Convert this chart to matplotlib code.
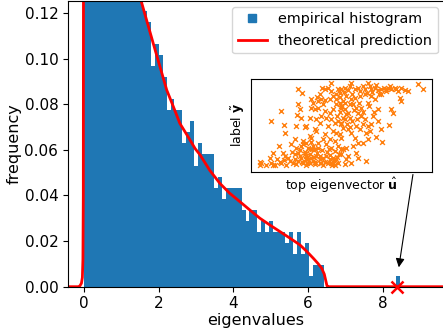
import numpy as np
import matplotlib.pyplot as plt
from matplotlib.lines import Line2D

# histogram of the eigenvalues: 80 bins of equal width, counts per bin
bin_edges = np.linspace(0.0, 8.44, 81)
counts = [60, 45, 40, 37, 35, 33, 32, 31, 30, 30, 29, 28, 28, 27, 27,
          25, 24, 20, 22, 21, 19, 16, 17, 16, 16, 13, 14, 15, 11, 13,
          12, 12, 12, 9, 10, 8, 9, 9, 9, 9, 7, 6, 7, 7, 5,
          6, 5, 6, 5, 5, 5, 4, 5, 3, 5, 3, 4, 1, 2, 2,
          2, 0, 0, 0, 0, 0, 0, 0, 0, 0, 0, 0, 0, 0, 0,
          0, 0, 0, 0, 1]
freq_per_count = 0.00483

# theoretical limiting density
theory_x = [-0.42, -0.14, -0.10, -0.06, -0.035, -0.02, -0.01, 0.0, 0.02, 0.3,
            0.8, 1.2, 1.53, 1.86, 2.04, 2.22, 2.40, 2.57, 2.78, 2.98,
            3.11, 3.37, 3.64, 3.90, 4.18, 4.45, 4.71, 4.98, 5.25, 5.52,
            5.78, 5.96, 6.14, 6.26, 6.36, 6.43, 6.476, 6.50, 6.52, 9.8]
theory_y = [0.0, 0.0, 0.0004, 0.0015, 0.004, 0.012, 0.04, 0.25, 0.6, 0.25,
            0.18, 0.145, 0.1256, 0.1066, 0.0964, 0.0862, 0.0788, 0.0716, 0.066, 0.0605,
            0.0578, 0.0510, 0.0453, 0.0410, 0.0372, 0.0335, 0.0300, 0.0270, 0.0241, 0.0212,
            0.0183, 0.0155, 0.0124, 0.0102, 0.0081, 0.0055, 0.0022, 0.0005, 0.0, 0.0]

top_eig = 8.38

# top eigenvector entries against the labels
u_vals = [83.3, 50, 54, 74, 77.3, 80, 71.7, 69.3, 63.3, 65, 62.7, 50, 51.7, 33.3, 49.3,
          53.3, 61.7, 22.7, 36, 47.7, 56.7, 58.3, 66.7, 68.3, 37.3, 46.7, 61.7, 63.3, 31, 43.3,
          53.3, 55, 58.3, 60, 61.7, 65, 66.7, 70, 25, 21.7, 35, 36.7, 40, 46.7, 50,
          51.7, 53.3, 56.7, 58.3, 60, 63.3, 65, 68.3, 71.7, 75, 78.3, 81.7, 85, 88.3, 13.3,
          11.7, 23.3, 25, 31.7, 33.3, 38.3, 45, 48.3, 50, 55, 58.3, 61.7, 66.7, 71.7, 75,
          80, 83.3, 86.7, 90, 70, 73.3, 76.7, 81.7, 85, 88.3, 91.7, 83.3, 90, 88.3, 91.7,
          93.3, 85, 81.7, 76.7, 73.3, 78.3, 83.3, 86.7, 90, 93.3, 80, 85, 88.3, 91.7, 93.3,
          76.7, 81.7, 86.7, 90, 93.3, 83.3, 78.3, 75, 71.7, 68.3, 66.7, 70, 75,
          103.3, 101.7, 96.7, 93.3, 106.7, 110, 115, 120, 121.7, 123.3, 126.7, 130, 133.3, 138.3, 140,
          143.3, 146.7, 150, 160, 170, 175, 151.7, 152.7, 143.3, 145, 130, 140.7, 127.7, 134.3, 121.7,
          118.3, 120, 116.7, 113.3, 110, 108.3, 105, 103.3, 98.3, 95, 93.3, 96.7, 100, 101.7, 96.7,
          93.3, 95, 100, 103.3, 106.7, 110, 105, 98.3, 95, 108.3, 110, 103.3, 98.3, 118.3, 113.3,
          120, 123.3, 126.7, 116.7, 111.7, 130, 125, 133.3, 138.3, 133.3, 115, 120, 93.3, 100, 96.7,
          42, 44, 47, 52, 54, 57, 59, 62, 64, 67, 69, 72, 74, 77, 79,
          82, 84, 87, 89, 55, 63, 70, 48, 58, 66, 73, 81, 86, 91, 36,
          29, 18, 27, 12,
          88, 92, 96, 100, 104, 107, 112, 117, 119, 124, 128, 131, 136, 142, 148,
          153, 157, 102, 106, 111, 115, 98, 104, 108, 112, 99, 95, 102, 89, 92,
          97, 121, 126, 109, 115, 123]
label_vals = [93.3, 87.3, 82.7, 88.3, 86.7, 87.7, 81.7, 79.3, 76.7, 73.3, 67.7, 71.7, 66.7, 65.3, 60.7,
              58.3, 58.3, 54.7, 50.7, 50, 49, 50, 46.7, 45, 43.3, 36.7, 40, 38.3, 30, 31.7,
              30, 35, 33.3, 28.3, 26.7, 30, 26.7, 28.3, 22.7, 18.3, 23.3, 20, 18.3, 21.7, 23.3,
              20, 18.3, 21.7, 20, 16.7, 18.3, 15, 20, 16.7, 18.3, 20, 16.7, 18.3, 16.7, 12.7,
              14, 12.7, 10.7, 14, 12.7, 10.7, 12.7, 11.7, 15, 12.7, 10.7, 12.7, 11.7, 12.7, 10.7,
              12.7, 13.3, 10.7, 12.7, 75, 76.7, 76, 77.3, 80, 81.7, 83.3, 85, 86.7, 71.7, 73.3,
              68.3, 66.7, 63.3, 65, 60, 58.3, 56.7, 53.3, 55, 51.7, 50, 45, 43.3, 41.7, 38.3,
              41.7, 36.7, 35, 30, 26.7, 28.3, 31.7, 36.7, 53.3, 56.7, 66.7, 68.3, 71.7,
              93.3, 90, 88.3, 86.7, 86.7, 88.3, 90, 92.7, 90, 86.7, 88.3, 86, 87.3, 86.7, 88.3,
              86.7, 88.3, 85, 85, 91.7, 87.3, 78.3, 75, 66.7, 63.3, 55, 50.7, 39.3, 34, 45,
              43.3, 50, 56.7, 60, 63.3, 68.3, 71.7, 76.7, 80, 75, 70, 66.7, 63.3, 58.3, 56.7,
              53.3, 48.3, 46.7, 43.3, 38.3, 33.3, 30, 28.3, 26.7, 23.3, 18.3, 13.3, 16.7, 15, 68.3,
              73.3, 80, 76.7, 81.7, 80, 66.7, 60, 46.7, 85, 81.7, 33.3, 36.7, 21.7, 20, 11.7,
              15, 24, 17, 26, 14, 24, 13, 22, 27, 14, 23, 20, 26, 14, 24,
              21, 11, 25, 19, 32, 34, 33, 28, 17, 19, 13, 27, 15, 22, 16,
              17, 11, 11, 11,
              77, 79, 84, 86, 82, 78, 85, 87, 83, 84, 91, 82, 88, 90, 87,
              88, 86, 72, 66, 73, 64, 62, 55, 50, 47, 52, 58, 49, 60, 64,
              73, 70, 64, 57, 52, 52]

fig = plt.figure(figsize=(4.43, 3.35), dpi=100)
ax = fig.add_axes([68 / 443, 48.3 / 335, 376 / 443, 285.8 / 335])

heights = np.array(counts) * freq_per_count
ax.bar(bin_edges[:-1], heights, width=np.diff(bin_edges), align='edge', color='C0')
ax.plot(theory_x, theory_y, color='red', lw=2)
ax.plot(top_eig, 0, 'x', color='red', ms=8, mew=1.8, clip_on=False, zorder=5)

ax.set_xlim(-0.419, 9.629)
ax.set_ylim(0, 0.1253)
ax.set_xticks([0, 2, 4, 6, 8])
ax.set_yticks([0, 0.02, 0.04, 0.06, 0.08, 0.10, 0.12])
ax.tick_params(labelsize=11)
ax.set_xlabel('eigenvalues', fontsize=11.5, labelpad=1)
ax.set_ylabel('frequency', fontsize=11.5, labelpad=2)

handles = [Line2D([], [], marker='s', ls='none', color='C0', markersize=5.5),
           Line2D([], [], color='red', lw=2)]
ax.legend(handles, ['empirical histogram', 'theoretical prediction'],
          loc='upper right', fontsize=10.4, borderaxespad=0.4)

ax.annotate('', xy=(8.41, 0.0073), xytext=(8.81, 0.0504),
            arrowprops=dict(arrowstyle='-|>', color='black', lw=0.8, mutation_scale=13))

# inset: labels against the top eigenvector
axin = fig.add_axes([250.7 / 443, (335 - 171.5) / 335, 181.3 / 443, 92.5 / 335])
axin.scatter(u_vals, label_vals, marker='x', s=12, linewidths=1.0, color='C1')
axin.set_xlim(2.7, 184)
axin.set_ylim(4.5, 97)
axin.set_xticks([])
axin.set_yticks([])
axin.set_xlabel('top eigenvector $\\hat{\\mathbf{u}}$', fontsize=9, labelpad=3)
axin.set_ylabel('label $\\tilde{\\mathbf{y}}$', fontsize=9, labelpad=3)

fig.savefig('out.png', dpi=100)
